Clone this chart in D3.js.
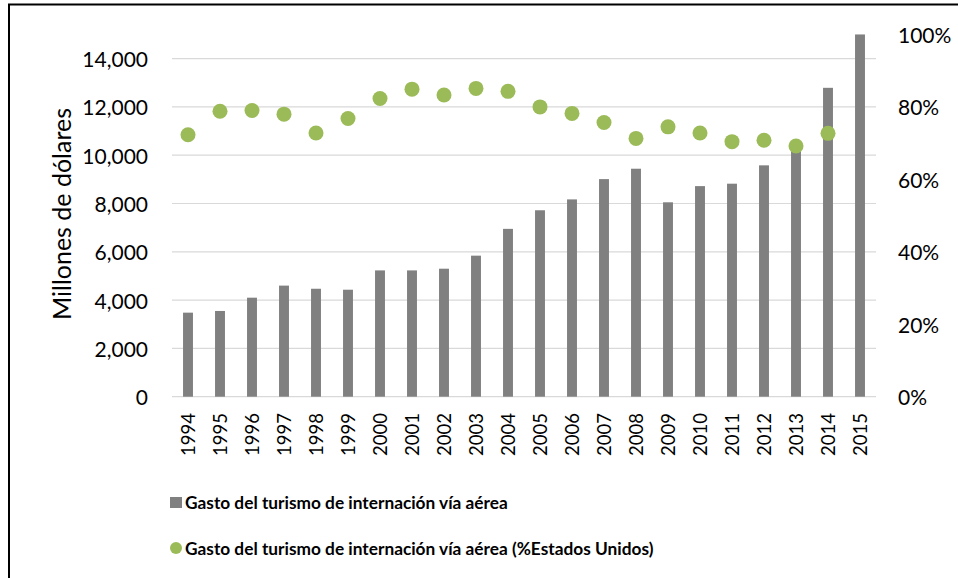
<!DOCTYPE html>
<html>
<head>
<meta charset="utf-8">
<script src="https://cdn.jsdelivr.net/npm/d3@7"></script>
<style>
  body { margin: 0; background: #fff; }
  text { font-family: Lato, "Open Sans", sans-serif; fill: #000; }
</style>
</head>
<body>
<div id="chart"></div>
<script>
(() => {
  const width = 958;
  const height = 578;

  // data
  const years = ["1994", "1995", "1996", "1997", "1998", "1999", "2000", "2001", "2002", "2003", "2004",
    "2005", "2006", "2007", "2008", "2009", "2010", "2011", "2012", "2013", "2014", "2015"];
  const gasto = [3480, 3550, 4100, 4600, 4470, 4430, 5230, 5230, 5300, 5840, 6950,
    7720, 8170, 9010, 9440, 8050, 8720, 8820, 9580, 10220, 12790, 15000];
  const pctEU = [0.723, 0.788, 0.790, 0.780, 0.728, 0.768, 0.823, 0.849, 0.833, 0.851, 0.843,
    0.800, 0.782, 0.757, 0.713, 0.745, 0.728, 0.704, 0.708, 0.692, 0.727, null];
  const leftTicks = [0, 2000, 4000, 6000, 8000, 10000, 12000, 14000];
  const rightTicks = [0, 0.2, 0.4, 0.6, 0.8, 1];
  const legendLabels = [
    "Gasto del turismo de internación vía aérea",
    "Gasto del turismo de internación vía aérea (%Estados Unidos)"
  ];

  const barColor = "#808080";
  const dotColor = "#9bbb59";

  const svg = d3
    .select("#chart")
    .append("svg")
    .attr("width", width)
    .attr("height", height);

  svg.append("rect").attr("width", width).attr("height", height).attr("fill", "#fff");

  // frame (only top and left edges are visible)
  svg.append("line").attr("x1", 8).attr("x2", width).attr("y1", 4.5).attr("y2", 4.5)
    .attr("stroke", "#000").attr("stroke-width", 2);
  svg.append("line").attr("x1", 9).attr("x2", 9).attr("y1", 4).attr("y2", height)
    .attr("stroke", "#000").attr("stroke-width", 2);

  const x = d3.scaleBand().domain(years).range([172, 876]);
  const y = d3.scaleLinear().domain([0, 15000]).range([396.7, 34.45]);
  const y2 = d3.scaleLinear().domain([0, 1]).range([396.7, 34.45]);

  // gridlines
  svg.append("g")
    .selectAll("line")
    .data(leftTicks)
    .join("line")
    .attr("x1", 172)
    .attr("x2", 876)
    .attr("y1", (d) => y(d))
    .attr("y2", (d) => y(d))
    .attr("stroke", "#d9d9d9")
    .attr("stroke-width", 1.2);

  // left axis labels
  svg.append("g")
    .selectAll("text")
    .data(leftTicks)
    .join("text")
    .attr("x", 148)
    .attr("y", (d) => y(d))
    .attr("text-anchor", "end")
    .attr("dominant-baseline", "central")
    .style("font-size", "21px")
    .text((d) => d3.format(",")(d));

  // right axis labels
  svg.append("g")
    .selectAll("text")
    .data(rightTicks)
    .join("text")
    .attr("x", 898)
    .attr("y", (d) => y2(d))
    .attr("dominant-baseline", "central")
    .style("font-size", "21px")
    .text((d) => d3.format(".0%")(d));

  // year labels
  svg.append("g")
    .selectAll("text")
    .data(years)
    .join("text")
    .attr("transform", (d) => `translate(${x(d) + x.bandwidth() / 2},413) rotate(-90)`)
    .attr("text-anchor", "end")
    .attr("dominant-baseline", "central")
    .style("font-size", "18.5px")
    .text((d) => d);

  // axis title
  svg.append("text")
    .attr("transform", "translate(61,214) rotate(-90)")
    .attr("text-anchor", "middle")
    .attr("dominant-baseline", "central")
    .style("font-size", "25px")
    .text("Millones de dólares");

  // bars
  const barW = x.bandwidth() * 0.31;
  svg.append("g")
    .selectAll("rect")
    .data(years)
    .join("rect")
    .attr("x", (d) => x(d) + x.bandwidth() / 2 - barW / 2)
    .attr("width", barW)
    .attr("y", (d, i) => y(gasto[i]))
    .attr("height", (d, i) => y(0) - y(gasto[i]))
    .attr("fill", barColor);

  // dots
  svg.append("g")
    .selectAll("circle")
    .data(years.filter((d, i) => pctEU[i] != null))
    .join("circle")
    .attr("cx", (d) => x(d) + x.bandwidth() / 2)
    .attr("cy", (d) => y2(pctEU[years.indexOf(d)]))
    .attr("r", 7.5)
    .attr("fill", dotColor);

  // legend
  const legend = svg.append("g");
  legend.append("rect")
    .attr("x", 170).attr("y", 497).attr("width", 12).attr("height", 11)
    .attr("fill", barColor);
  legend.append("circle")
    .attr("cx", 176).attr("cy", 548).attr("r", 6)
    .attr("fill", dotColor);
  legend.selectAll("text")
    .data(legendLabels)
    .join("text")
    .attr("x", 185)
    .attr("y", (d, i) => (i === 0 ? 502.7 : 548))
    .attr("dominant-baseline", "central")
    .style("font-size", "17.3px")
    .style("font-weight", "bold")
    .text((d) => d);
})();
</script>
</body>
</html>
